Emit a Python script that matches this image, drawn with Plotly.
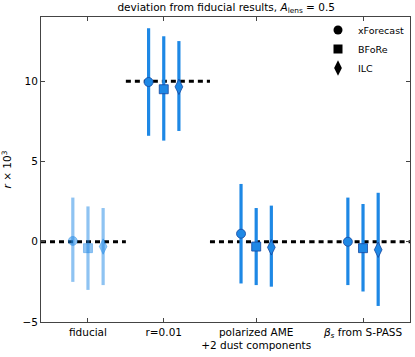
import plotly.graph_objects as go

# ── DATA ──────────────────────────────────────────────────────
groups = ["fiducial", "r=0.01", "polarized AME<br>+2 dust components",
          "<i>β<sub>s</sub></i> from S-PASS"]
group_pos = [0, 1, 2.22, 3.63]
reference = [0, 10, 0, 0]
methods = ["xForecast", "BFoRe", "ILC"]
symbols = ["circle", "square", "diamond-tall"]

# r x 10^3 : central value, upper and lower end of the error bar
central = {
    "xForecast": [0.05, 9.95, 0.5, 0.0],
    "BFoRe":     [-0.4, 9.5, -0.3, -0.4],
    "ILC":       [-0.3, 9.65, -0.35, -0.5],
}
upper = {
    "xForecast": [2.75, 13.3, 3.6, 2.75],
    "BFoRe":     [2.2, 12.8, 2.1, 2.35],
    "ILC":       [2.1, 12.5, 2.25, 3.05],
}
lower = {
    "xForecast": [-2.5, 6.6, -2.6, -2.7],
    "BFoRe":     [-3.0, 6.3, -2.7, -3.1],
    "ILC":       [-2.7, 6.9, -2.8, -4.0],
}

BLUE = "rgb(30,136,229)"
LIGHT = "rgba(30,136,229,0.5)"
EDGE = "rgb(20,70,160)"
offset = 0.2
x_range = [-0.62, 4.25]

fig = go.Figure()

# ── reference dashed lines ────────────────────────────────────
bounds = [x_range[0]] + [(a + b) / 2 for a, b in zip(group_pos[:-1], group_pos[1:])] + [x_range[1]]
for i, ref in enumerate(reference):
    fig.add_trace(go.Scatter(x=[bounds[i], bounds[i + 1]], y=[ref, ref], mode="lines",
                             line=dict(color="black", width=3, dash="5px,4px"),
                             showlegend=False, hoverinfo="skip"))

# ── points with error bars ────────────────────────────────────
for k, (m, sym) in enumerate(zip(methods, symbols)):
    for i, gp in enumerate(group_pos):
        c = central[m][i]
        col = LIGHT if i == 0 else BLUE
        fig.add_trace(go.Scatter(
            x=[gp + (k - 1) * offset], y=[c], mode="markers",
            marker=dict(symbol=sym, size=9 if sym != "diamond-tall" else 11,
                        color=col, line=dict(color=col if i == 0 else EDGE, width=0.8)),
            error_y=dict(type="data", symmetric=False,
                         array=[upper[m][i] - c], arrayminus=[c - lower[m][i]],
                         color=col, thickness=3.2, width=0),
            showlegend=False))
    # legend entry in black
    fig.add_trace(go.Scatter(x=[None], y=[None], mode="markers", name=m,
                             marker=dict(symbol=sym, size=9 if k < 2 else 11, color="black")))

axis_common = dict(showline=True, linecolor="#444", linewidth=1, mirror="ticks",
                   ticks="inside", ticklen=4, tickcolor="#444", showgrid=False,
                   zeroline=False, tickfont=dict(size=10.5, color="black"))

fig.update_layout(
    width=415, height=357,
    margin=dict(l=41, r=5, t=17, b=35),
    plot_bgcolor="white", paper_bgcolor="white",
    font=dict(family="DejaVu Sans", size=10.5, color="black"),
    title=dict(text="deviation from fiducial results, <i>A</i><sub>lens</sub> = 0.5",
               x=0.545, xanchor="center", y=0.99, yanchor="top",
               font=dict(size=10.5, color="black")),
    xaxis=dict(range=x_range, tickvals=group_pos, ticktext=groups, **axis_common),
    yaxis=dict(range=[-5, 14], tickvals=[-5, 0, 5, 10], ticktext=["−5", "0", "5", "10"],
               title=dict(text="<i>r</i> × 10<sup>3</sup>", standoff=8,
                          font=dict(size=10.5, color="black")),
               **axis_common),
    legend=dict(x=1.0, y=1.005, xanchor="right", yanchor="top", bgcolor="rgba(0,0,0,0)",
                font=dict(size=9.5, color="black"), itemwidth=30, tracegroupgap=0),
)

fig.write_html("out.html", config={"displayModeBar": False},
               post_script="document.body.style.margin='0';")
